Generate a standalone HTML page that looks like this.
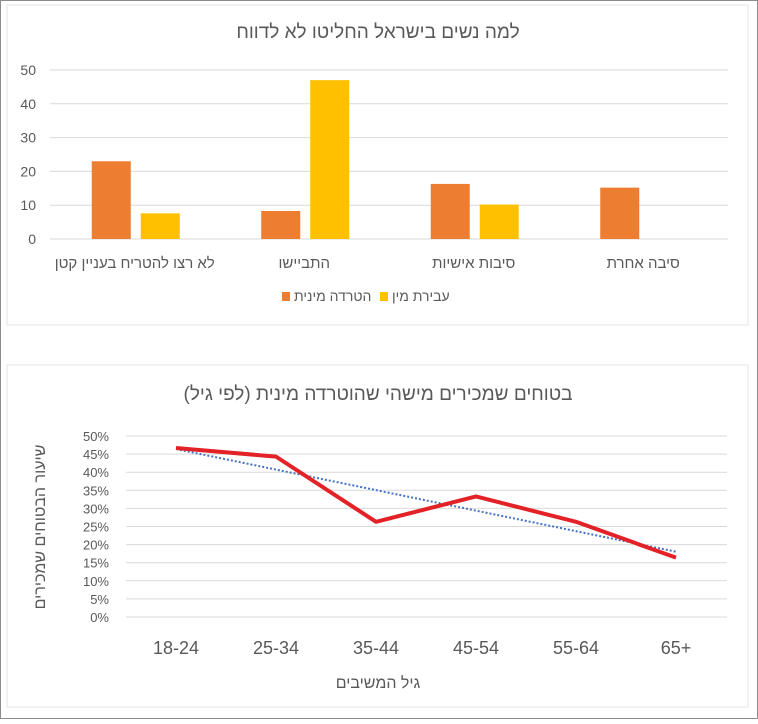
<!DOCTYPE html>
<html><head><meta charset="utf-8"><style>
body{margin:0;background:#fff;font-family:"Liberation Sans","Noto Sans CJK SC",sans-serif;}
svg text{font-family:"Liberation Sans","Noto Sans CJK SC",sans-serif;fill:#595959;}
</style></head><body>
<svg id="s" width="758" height="719" viewBox="0 0 758 719" xmlns="http://www.w3.org/2000/svg">
<rect x="0.5" y="0.5" width="757" height="718" fill="#fff" stroke="#8c8c8c"/>
<rect x="7" y="5" width="741" height="320" fill="#fff" stroke="#e3e3e3"/>
<rect x="7" y="365" width="741" height="342" fill="#fff" stroke="#e3e3e3"/>
<text x="378" y="38" font-size="19" text-anchor="middle">למה נשים בישראל החליטו לא לדווח</text>
<g id="g1"></g>
<text x="378" y="400" font-size="19" text-anchor="middle">בטוחים שמכירים מישהי שהוטרדה מינית (לפי גיל)</text>
<g id="g2"></g>
<text x="378" y="688" font-size="16" text-anchor="middle">גיל המשיבים</text>
<text transform="translate(45,527) rotate(-90)" font-size="16" text-anchor="middle">שיעור הבטוחים שמכירים</text>
</svg>
<script>
const barCats=["לא רצו להטריח בעניין קטן","התביישו","סיבות אישיות","סיבה אחרת"];
const harassVals=[23,8.3,16.3,15.2];
const assaultVals=[7.6,47,10.2,0];
const barTicks=[0,10,20,30,40,50];
const lineCats=["18-24","25-34","35-44","45-54","55-64","65+"];
const lineVals=[46.7,44.3,26.3,33.3,26.3,16.4];
const lineTicks=[0,5,10,15,20,25,30,35,40,45,50];
const NS="http://www.w3.org/2000/svg";
function mk(p,t,a){const e=document.createElementNS(NS,t);for(const k in a)e.setAttribute(k,a[k]);p.appendChild(e);return e;}
const g1=document.getElementById('g1');
const by=v=>239-v*(169/50), bx0=50, bw=169.5;
barTicks.forEach(t=>{const l=mk(g1,'line',{x1:50,x2:728,y1:by(t),y2:by(t),stroke:'#d9d9d9'});


const tx=mk(g1,'text',{x:36,y:by(t)+5,'font-size':14,'text-anchor':'end'});tx.textContent=t;

});
barCats.forEach((c,i)=>{const cx=bx0+bw*(i+0.5);
const r1=mk(g1,'rect',{x:cx-43,y:by(harassVals[i]),width:39,height:by(0)-by(harassVals[i]),fill:'#ed7d31'});


const r2=mk(g1,'rect',{x:cx+6,y:by(assaultVals[i]),width:39,height:by(0)-by(assaultVals[i]),fill:'#ffc000'});


const t=mk(g1,'text',{x:cx,y:268,'font-size':15,'text-anchor':'middle'});t.textContent=c;

});
const lg=[[282,'#ed7d31','הטרדה מינית'],[380,'#ffc000','עבירת מין']];
lg.forEach(([x,col,txt])=>{const r=mk(g1,'rect',{x:x,y:292,width:8,height:9,fill:col});


const t=mk(g1,'text',{x:x+12,y:301,'font-size':14,'text-anchor':'start'});t.textContent=txt;

});
const g2=document.getElementById('g2');
const ly=v=>617-v*(181/50), lx=i=>126+100*(i+0.5);
lineTicks.forEach(t=>{const l=mk(g2,'line',{x1:126,x2:727,y1:ly(t),y2:ly(t),stroke:'#d9d9d9'});


const tx=mk(g2,'text',{x:109,y:ly(t)+5,'font-size':13,'text-anchor':'end'});tx.textContent=t+'%';

});
lineCats.forEach((c,i)=>{const t=mk(g2,'text',{x:lx(i),y:654,'font-size':18,'text-anchor':'middle'});t.textContent=c;

});
const n=lineVals.length,mx=(n-1)/2,my=lineVals.reduce((a,b)=>a+b,0)/n;
let sxy=0,sxx=0;lineVals.forEach((v,i)=>{sxy+=(i-mx)*(v-my);sxx+=(i-mx)*(i-mx);});
const sl=sxy/sxx;
const tr=mk(g2,'line',{x1:lx(0),y1:ly(my-sl*mx),x2:lx(n-1),y2:ly(my+sl*mx),stroke:'#4472c4','stroke-width':2,'stroke-dasharray':'2 2'});


const pl=mk(g2,'polyline',{points:lineVals.map((v,i)=>lx(i)+','+ly(v)).join(' '),fill:'none',stroke:'#e32228','stroke-width':4,'stroke-linejoin':'round'});


</script>
</body></html>
